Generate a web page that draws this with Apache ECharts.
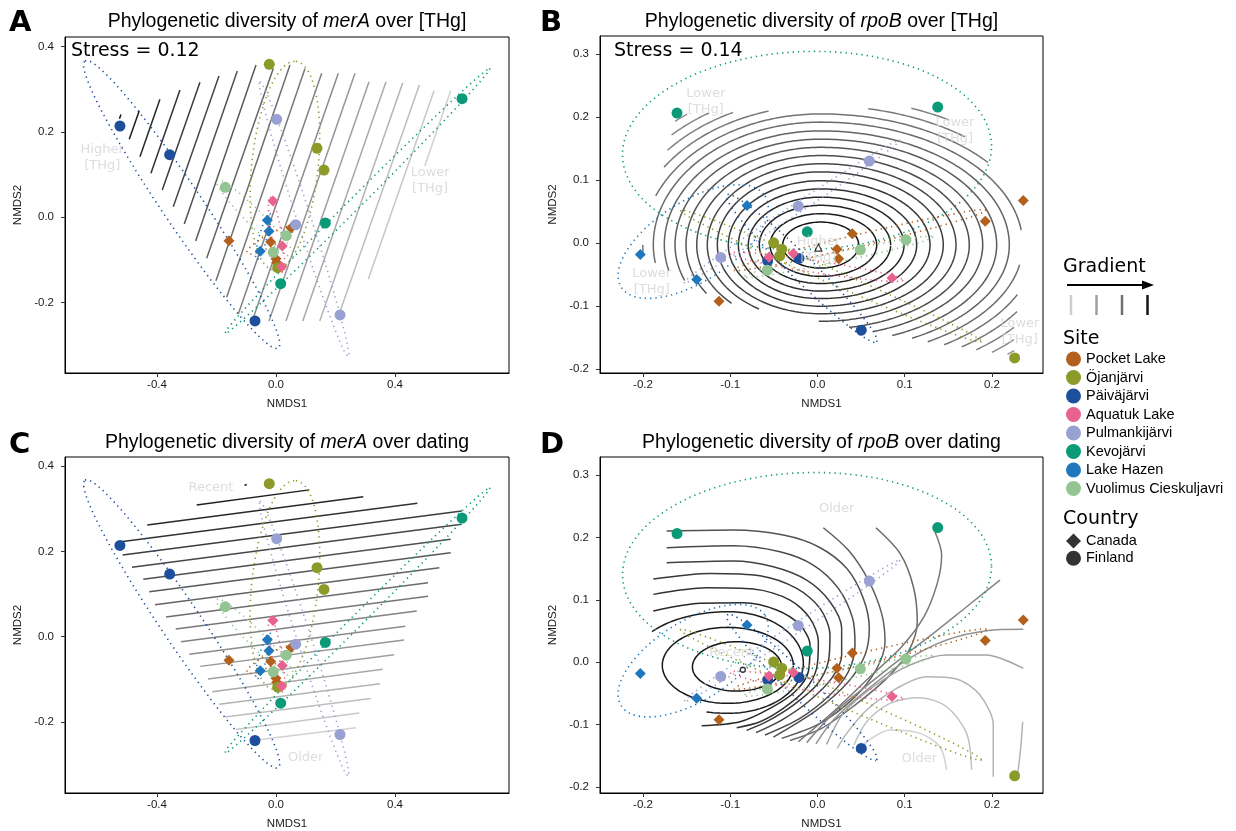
<!DOCTYPE html>
<html>
<head>
<meta charset="utf-8">
<script src="https://cdn.jsdelivr.net/npm/echarts@6/dist/echarts.min.js"></script>
<style>
  html, body { margin: 0; padding: 0; background: #fff; }
  #chart { width: 1236px; height: 831px; }
</style>
</head>
<body>
<div id="chart"></div>
<script>
// sites, colours and country of each site
const sites = ['Pocket Lake', 'Öjanjärvi', 'Päiväjärvi', 'Aquatuk Lake', 'Pulmankijärvi', 'Kevojärvi', 'Lake Hazen', 'Vuolimus Cieskuljavri'];
const siteColors = ['#b3601c', '#8b9a28', '#1d4f9d', '#e8628f', '#99a1d2', '#0b9a77', '#1f78bd', '#92c592'];
const siteCountry = ['Canada', 'Finland', 'Finland', 'Canada', 'Finland', 'Finland', 'Canada', 'Finland'];
const countries = ['Canada', 'Finland'];
const countrySymbols = ['diamond', 'circle'];

// NMDS scores: [site, NMDS1, NMDS2]
const merAScores = [
  ['Pocket Lake', -0.158, -0.0548], ['Pocket Lake', 0.0504, -0.0251], ['Pocket Lake', -0.0178, -0.0579],
  ['Pocket Lake', 0.0, -0.097], ['Pocket Lake', 0.0024, -0.1064],
  ['Öjanjärvi', -0.0225, 0.3586], ['Öjanjärvi', 0.1378, 0.1617], ['Öjanjärvi', 0.1613, 0.1108], ['Öjanjärvi', 0.0057, -0.1181],
  ['Päiväjärvi', -0.5244, 0.214], ['Päiväjärvi', -0.3573, 0.1467], ['Päiväjärvi', -0.0706, -0.243],
  ['Aquatuk Lake', -0.0101, 0.0382], ['Aquatuk Lake', 0.0212, -0.0673], ['Aquatuk Lake', 0.0192, -0.1158],
  ['Pulmankijärvi', 0.0024, 0.2297], ['Pulmankijärvi', 0.0662, -0.0173], ['Pulmankijärvi', 0.2151, -0.229],
  ['Kevojärvi', 0.6252, 0.278], ['Kevojärvi', 0.1657, -0.0134], ['Kevojärvi', 0.0158, -0.1556],
  ['Lake Hazen', -0.0292, -0.007], ['Lake Hazen', -0.0235, -0.0328], ['Lake Hazen', -0.0528, -0.0797],
  ['Vuolimus Cieskuljavri', -0.1704, 0.0703], ['Vuolimus Cieskuljavri', 0.0346, -0.0431], ['Vuolimus Cieskuljavri', -0.0091, -0.082]
];
const rpoBScores = [
  ['Pocket Lake', 0.2359, 0.0678], ['Pocket Lake', 0.1923, 0.0349], ['Pocket Lake', 0.0399, 0.0148],
  ['Pocket Lake', 0.0223, -0.0095], ['Pocket Lake', 0.0243, -0.0249], ['Pocket Lake', -0.1129, -0.0921],
  ['Öjanjärvi', -0.0502, 0.0005], ['Öjanjärvi', -0.041, -0.0095], ['Öjanjärvi', -0.0433, -0.0202], ['Öjanjärvi', 0.226, -0.1821],
  ['Päiväjärvi', -0.0212, -0.0243], ['Päiväjärvi', -0.0571, -0.0281], ['Päiväjärvi', 0.0502, -0.1381],
  ['Aquatuk Lake', -0.0277, -0.0163], ['Aquatuk Lake', -0.0556, -0.0222], ['Aquatuk Lake', 0.0854, -0.0551],
  ['Pulmankijärvi', 0.0594, 0.1302], ['Pulmankijärvi', -0.022, 0.0587], ['Pulmankijärvi', -0.1109, -0.0227],
  ['Kevojärvi', -0.161, 0.2063], ['Kevojärvi', 0.1378, 0.2159], ['Kevojärvi', -0.0117, 0.0179],
  ['Lake Hazen', -0.0808, 0.0598], ['Lake Hazen', -0.2031, -0.0179], ['Lake Hazen', -0.1385, -0.0576],
  ['Vuolimus Cieskuljavri', 0.1014, 0.0052], ['Vuolimus Cieskuljavri', 0.0491, -0.0106], ['Vuolimus Cieskuljavri', -0.0575, -0.0429]
];

// site ellipses: [site, centre x, centre y, major tip x, major tip y, minor tip x, minor tip y]
const merAEllipses = [
  ['Päiväjärvi', -0.317, 0.030, -0.642, 0.367, -0.261, 0.056],
  ['Öjanjärvi', 0.030, 0.121, 0.067, 0.3657, 0.141, 0.113],
  ['Pulmankijärvi', 0.0945, -0.0045, -0.054, 0.318, 0.117, 0.0005],
  ['Kevojärvi', 0.271, 0.0365, 0.719, 0.349, 0.285, 0.0267],
  ['Vuolimus Cieskuljavri', -0.0705, -0.0023, -0.199, 0.0874, -0.0515, 0.011],
  ['Aquatuk Lake', 0.002, -0.0415, -0.020, 0.048, 0.0186, -0.0395],
  ['Lake Hazen', -0.0425, -0.0453, -0.020, 0.0094, -0.0295, -0.0479],
  ['Pocket Lake', -0.017, -0.053, 0.064, -0.022, -0.0073, -0.0654]
];
const rpoBEllipses = [
  ['Kevojärvi', -0.012, 0.147, 0.1995, 0.155, -0.014, 0.304],
  ['Lake Hazen', -0.1425, 0.0025, -0.06, 0.075, -0.1179, -0.0511],
  ['Öjanjärvi', 0.0153, -0.0522, 0.1882, -0.1567, 0.0121, -0.0624],
  ['Pulmankijärvi', -0.0296, 0.0498, 0.0946, 0.1635, -0.0264, 0.0432],
  ['Pocket Lake', 0.0487, 0.0048, 0.1939, 0.0524, 0.0503, -0.0045],
  ['Vuolimus Cieskuljavri', 0.0239, -0.0218, 0.1327, 0.0100, 0.0251, -0.0296],
  ['Aquatuk Lake', -0.001, -0.0376, 0.0983, -0.0587, -0.002, -0.047],
  ['Päiväjärvi', -0.018, -0.040, 0.0679, -0.1567, -0.0084, -0.0264]
];

// fitted surface contours, high to low [THg] / recent to older
const merATHgContours = [
  [-0.526, 0.231, -0.521, 0.241],
  [-0.4931, 0.1828, -0.4595, 0.2498], [-0.4571, 0.142, -0.390, 0.2765], [-0.4202, 0.1031, -0.3227, 0.2983],
  [-0.3822, 0.064, -0.2555, 0.3164], [-0.3452, 0.0248, -0.1916, 0.3311], [-0.3082, -0.0157, -0.130, 0.3429],
  [-0.2699, -0.0555, -0.0672, 0.3569], [-0.2329, -0.0961, -0.009, 0.349], [-0.2017, -0.1486, 0.047, 0.357],
  [-0.1657, -0.1875, 0.0975, 0.349], [-0.1267, -0.2266, 0.1536, 0.3375], [-0.080, -0.243, 0.2094, 0.3375],
  [-0.0235, -0.243, 0.2655, 0.3375], [0.0335, -0.243, 0.3126, 0.3178], [0.090, -0.243, 0.3697, 0.3178],
  [0.147, -0.243, 0.4259, 0.3155], [0.209, -0.233, 0.4817, 0.310], [0.310, -0.145, 0.531, 0.2967],
  [0.50, 0.12, 0.587, 0.2967]
];
const merADatingContours = [
  [-0.106, 0.3545, -0.098, 0.3565],
  [-0.2666, 0.3086, 0.112, 0.344], [-0.4326, 0.2617, 0.2934, 0.3281], [-0.521, 0.2226, 0.475, 0.3126],
  [-0.5153, 0.1915, 0.6242, 0.2946], [-0.484, 0.1626, 0.6242, 0.2634], [-0.446, 0.1345, 0.5872, 0.2283],
  [-0.4259, 0.1055, 0.5872, 0.1969], [-0.4067, 0.075, 0.5489, 0.1617], [-0.3697, 0.0462, 0.5109, 0.1266],
  [-0.3371, 0.018, 0.5109, 0.0947], [-0.3193, -0.0117, 0.473, 0.0602], [-0.2914, -0.0412, 0.4346, 0.0244],
  [-0.2545, -0.0694, 0.4303, -0.0077], [-0.2286, -0.0991, 0.3966, -0.0422], [-0.2141, -0.1289, 0.3587, -0.0764],
  [-0.1906, -0.1584, 0.3496, -0.1101], [-0.1714, -0.1882, 0.3183, -0.1444], [-0.1355, -0.217, 0.280, -0.1788],
  [-0.0649, -0.2421, 0.2689, -0.2133]
];
// rings: [centre x, centre y, reach left, reach right, reach up, reach down]
const rpoBTHgContours = [
  [0.0037, -0.003, 0.0436, 0.0436, 0.0365, 0.0365], [0.0037, -0.003, 0.0581, 0.0642, 0.0497, 0.0497],
  [0.0037, -0.003, 0.0704, 0.0802, 0.063, 0.061], [0.0037, -0.003, 0.083, 0.0955, 0.076, 0.073],
  [0.0037, -0.003, 0.0944, 0.110, 0.089, 0.085], [0.0037, -0.003, 0.1059, 0.1253, 0.102, 0.097],
  [0.0037, -0.003, 0.1185, 0.1405, 0.116, 0.109], [0.0037, -0.003, 0.130, 0.1551, 0.129, 0.121],
  [0.0037, -0.003, 0.1421, 0.1703, 0.142, 0.133], [0.0037, -0.003, 0.1544, 0.1857, 0.155, 0.145],
  [0.0037, -0.003, 0.167, 0.2017, 0.168, 0.157], [0.0037, -0.003, 0.1793, 0.2162, 0.181, 0.169],
  [0.0037, -0.003, 0.1919, 0.2315, 0.195, 0.181], [0.0037, -0.003, 0.204, 0.2468, 0.208, 0.193],
  [0.0037, -0.003, 0.2166, 0.2625, 0.221, 0.205], [0.0037, -0.003, 0.2292, 0.2774, 0.234, 0.217],
  [0.0037, -0.003, 0.2418, 0.2934, 0.247, 0.229], [0.0037, -0.003, 0.2544, 0.3083, 0.26, 0.241]
];
const rpoBDatingRings = [
  [-0.0926, -0.0077, 0.0508, 0.0516, 0.0406, 0.0385],
  [-0.1028, -0.005, 0.0751, 0.0751, 0.0609, 0.0609],
  [-0.1022, -0.0018, 0.111, 0.086, 0.0828, 0.080]
];
const rpoBDatingRingLevels = [0, 0.02, 0.05];
const rpoBDatingCurves = [
  [[-0.1882, 0.082], [-0.1347, 0.0944], [-0.085, 0.0954], [-0.0468, 0.0837], [-0.0201, 0.0596], [-0.0086, 0.0276], [-0.0105, -0.0152], [-0.0258, -0.0472], [-0.0544, -0.0739], [-0.0888, -0.0953], [-0.1328, -0.1017]],
  [[-0.1882, 0.1088], [-0.127, 0.1194], [-0.0735, 0.1173], [-0.0315, 0.0997], [-0.0086, 0.0703], [0.001, 0.0329], [-0.001, -0.0098], [-0.0143, -0.0446], [-0.0392, -0.0739], [-0.0659, -0.0953], [-0.0926, -0.1049]],
  [[-0.1882, 0.1333], [-0.1232, 0.1424], [-0.0659, 0.1387], [-0.0239, 0.1184], [0.0029, 0.0863], [0.0143, 0.0436], [0.0124, 0.0009], [-0.001, -0.0365], [-0.0277, -0.0686], [-0.0583, -0.0953], [-0.0812, -0.1092]],
  [[-0.1729, 0.1595], [-0.0965, 0.1622], [-0.0506, 0.1531], [-0.0124, 0.1317], [0.0143, 0.097], [0.0277, 0.0543], [0.0277, 0.0115], [0.0162, -0.0259], [-0.0105, -0.0633], [-0.0411, -0.0927], [-0.0705, -0.1128]],
  [[-0.1729, 0.1835], [-0.0965, 0.1867], [-0.043, 0.1771], [-0.0048, 0.1558], [0.0239, 0.1184], [0.0403, 0.0703], [0.043, 0.0276], [0.0354, -0.0152], [0.0143, -0.0526], [-0.0201, -0.09], [-0.0602, -0.1167]],
  [[-0.1729, 0.2103], [-0.0965, 0.2119], [-0.0392, 0.2038], [0.001, 0.1851], [0.0334, 0.1505], [0.0525, 0.1024], [0.0594, 0.0543], [0.0545, 0.0115], [0.0354, -0.0312], [-0.001, -0.0766], [-0.0506, -0.1199]],
  [[0.0067, 0.2156], [0.0353, 0.1798], [0.0583, 0.1317], [0.0735, 0.0783], [0.0774, 0.0329], [0.067, -0.0125], [0.0411, -0.0579], [0.0029, -0.098], [-0.0411, -0.122]],
  [[0.067, 0.2156], [0.0946, 0.1745], [0.1099, 0.121], [0.1144, 0.065], [0.1041, 0.0169], [0.0793, -0.0259], [0.043, -0.0686], [0.0048, -0.106], [-0.0315, -0.1255]],
  [[0.1347, 0.2092], [0.1423, 0.1718], [0.1373, 0.1264], [0.1221, 0.073], [0.0965, 0.0249], [0.0602, -0.0232], [0.0181, -0.0793], [-0.022, -0.1274]],
  [[0.2092, 0.1317], [0.171, 0.089], [0.1328, 0.0463], [0.0946, 0.0051], [0.0564, -0.0376], [0.0181, -0.082], [-0.0124, -0.1289]],
  [[0.2359, 0.0527], [0.1939, 0.0505], [0.148, 0.0356], [0.1022, 0.0035], [0.0564, -0.0446], [0.0181, -0.0927], [-0.0017, -0.1306]],
  [[0.2359, -0.0098], [0.1939, 0.0115], [0.148, 0.0115], [0.106, -0.0045], [0.064, -0.0393], [0.0296, -0.082], [0.0105, -0.1317]],
  [[0.2015, -0.1834], [0.2015, -0.1006], [0.1862, -0.0526], [0.1595, -0.0269], [0.1251, -0.0232], [0.0907, -0.0419], [0.0564, -0.0766], [0.0334, -0.114], [0.0227, -0.138]],
  [[0.1767, -0.1727], [0.171, -0.114], [0.148, -0.0713], [0.1175, -0.0569], [0.0831, -0.066], [0.0564, -0.0953], [0.0418, -0.1327]],
  [[0.148, -0.1727], [0.1404, -0.1354], [0.1175, -0.114], [0.0831, -0.1087], [0.0564, -0.1274], [0.0495, -0.1407]],
  [[0.2291, -0.1834], [0.2329, -0.138], [0.2352, -0.0953]]
];
const rpoBDatingCurveLevels = [0.1, 0.14, 0.18, 0.22, 0.26, 0.3, 0.36, 0.42, 0.48, 0.55, 0.62, 0.7, 0.78, 0.85, 0.92, 0.78];
const rpoBTHgPeak = [0.001, -0.007];
const rpoBDatingPeak = [-0.0856, -0.012];

// surface labels: [text, NMDS1, NMDS2]
const merATHgNotes = [['Higher\n[THg]', -0.584, 0.141], ['Lower\n[THg]', 0.518, 0.085]];
const rpoBTHgNotes = [['Lower\n[THg]', -0.128, 0.224], ['Lower\n[THg]', 0.1576, 0.179], ['Lower\n[THg]', -0.190, -0.061], ['Higher\n[THg]', 0.001, -0.011], ['Lower\n[THg]', 0.232, -0.140]];
const merADatingNotes = [['Recent', -0.2185, 0.349], ['Older', 0.100, -0.283]];
const rpoBDatingNotes = [['Older', 0.022, 0.2466], ['Recent', -0.0983, 0.0159], ['Older', 0.1167, -0.154]];

const merATicksX = [-0.4, 0, 0.4];
const merATicksY = [-0.2, 0, 0.2, 0.4];
const rpoBTicksX = [-0.2, -0.1, 0, 0.1, 0.2];
const rpoBTicksY = [-0.2, -0.1, 0, 0.1, 0.2, 0.3];
const gradientShades = [0.9, 0.68, 0.45, 0];

const ARIAL = '"Liberation Sans", Arial, sans-serif';
const DEJAVU = '"DejaVu Sans", sans-serif';

function grey(t) {
  const v = Math.round(20 + t * (225 - 20));
  return 'rgb(' + v + ',' + v + ',' + v + ')';
}

function ellipse(cx, cy, mx, my, nx, ny) {
  const pts = [];
  for (let i = 0; i <= 120; i++) {
    const t = i / 120 * 2 * Math.PI, c = Math.cos(t), s = Math.sin(t);
    pts.push([cx + (mx - cx) * c + (nx - cx) * s, cy + (my - cy) * c + (ny - cy) * s]);
  }
  return pts;
}

function ring(cx, cy, rl, rr, rt, rb) {
  const pts = [];
  for (let i = 0; i < 360; i++) {
    const t = i / 360 * 2 * Math.PI, c = Math.cos(t), s = Math.sin(t);
    pts.push([cx + c * (c >= 0 ? rr : rl), cy + s * (s >= 0 ? rt : rb)]);
  }
  return pts;
}

function hull(points) {
  const p = points.slice().sort((a, b) => a[0] - b[0] || a[1] - b[1]);
  const cross = (o, a, b) => (a[0] - o[0]) * (b[1] - o[1]) - (a[1] - o[1]) * (b[0] - o[0]);
  const lower = [], upper = [];
  for (const q of p) {
    while (lower.length >= 2 && cross(lower[lower.length - 2], lower[lower.length - 1], q) <= 0) lower.pop();
    lower.push(q);
  }
  for (let i = p.length - 1; i >= 0; i--) {
    const q = p[i];
    while (upper.length >= 2 && cross(upper[upper.length - 2], upper[upper.length - 1], q) <= 0) upper.pop();
    upper.push(q);
  }
  upper.pop(); lower.pop();
  return lower.concat(upper);
}

function inside(h, q) {
  for (let i = 0; i < h.length; i++) {
    const a = h[i], b = h[(i + 1) % h.length];
    if ((b[0] - a[0]) * (q[1] - a[1]) - (b[1] - a[1]) * (q[0] - a[0]) < 0) return false;
  }
  return true;
}

function clipRing(pts, h) {
  const f = pts.map(q => inside(h, q));
  const start = f.indexOf(false);
  if (start < 0) return [pts.concat([pts[0]])];
  const runs = [];
  let cur = [];
  for (let k = 0; k < pts.length; k++) {
    const i = (start + k) % pts.length;
    if (f[i]) cur.push(pts[i]);
    else { if (cur.length > 1) runs.push(cur); cur = []; }
  }
  if (cur.length > 1) runs.push(cur);
  return runs;
}

const rpoBHull = hull(rpoBScores.map(r => [r[1], r[2]]));

const panels = [
  {letter: 'A', gene: 'merA', by: '[THg]', stress: 'Stress = 0.12', scores: merAScores, ellipses: merAEllipses, notes: merATHgNotes,
    grid: {left: 65, top: 37, width: 444, height: 336}, xr: [-0.709, 0.783], yr: [-0.365, 0.4226], xt: merATicksX, yt: merATicksY},
  {letter: 'B', gene: 'rpoB', by: '[THg]', stress: 'Stress = 0.14', scores: rpoBScores, ellipses: rpoBEllipses, notes: rpoBTHgNotes,
    grid: {left: 600, top: 36, width: 443, height: 337}, xr: [-0.2493, 0.2585], yr: [-0.206, 0.3286], xt: rpoBTicksX, yt: rpoBTicksY},
  {letter: 'C', gene: 'merA', by: 'dating', stress: null, scores: merAScores, ellipses: merAEllipses, notes: merADatingNotes,
    grid: {left: 65, top: 457, width: 444, height: 336}, xr: [-0.709, 0.783], yr: [-0.366, 0.421], xt: merATicksX, yt: merATicksY},
  {letter: 'D', gene: 'rpoB', by: 'dating', stress: null, scores: rpoBScores, ellipses: rpoBEllipses, notes: rpoBDatingNotes,
    grid: {left: 600, top: 457, width: 443, height: 336}, xr: [-0.2493, 0.2585], yr: [-0.2096, 0.329], xt: rpoBTicksX, yt: rpoBTicksY}
];

const series = [];
function addLine(gi, pts, color, extra) {
  series.push(Object.assign({
    type: 'line', xAxisIndex: gi, yAxisIndex: gi, data: pts, symbol: 'none',
    silent: true, animation: false, z: 2, lineStyle: {color: color, width: 1.5}
  }, extra || {}));
}

// contours
merATHgContours.forEach((c, i, arr) => addLine(0, [[c[0], c[1]], [c[2], c[3]]], grey(i / (arr.length - 1) * 0.92)));
rpoBTHgContours.forEach((r, i, arr) => {
  clipRing(ring(...r), rpoBHull).forEach(seg => addLine(1, seg, grey(i / (arr.length - 1) * 0.6)));
});
merADatingContours.forEach((c, i, arr) => addLine(2, [[c[0], c[1]], [c[2], c[3]]], grey(i / (arr.length - 1) * 0.92)));
rpoBDatingRings.forEach((r, i) => {
  clipRing(ring(...r), rpoBHull).forEach(seg => addLine(3, seg, grey(rpoBDatingRingLevels[i])));
});
rpoBDatingCurves.forEach((c, i) => addLine(3, c, grey(rpoBDatingCurveLevels[i]), {smooth: 0.3}));

panels.forEach((p, gi) => {
  // site ellipses
  p.ellipses.forEach(e => {
    const col = siteColors[sites.indexOf(e[0])];
    addLine(gi, ellipse(...e.slice(1)), col, {z: 3, lineStyle: {color: col, width: 1.6, type: [1.3, 4]}});
  });
  // samples
  sites.forEach((s, si) => {
    series.push({
      type: 'scatter', name: s, xAxisIndex: gi, yAxisIndex: gi,
      data: p.scores.filter(r => r[0] === s).map(r => [r[1], r[2]]),
      symbol: countrySymbols[countries.indexOf(siteCountry[si])], symbolSize: 11,
      itemStyle: {color: siteColors[si], opacity: 1}, z: 4, silent: true, animation: false
    });
  });
  // surface labels
  series.push({
    type: 'scatter', xAxisIndex: gi, yAxisIndex: gi, symbolSize: 0, z: 5, silent: true, animation: false,
    data: p.notes.map(n => ({value: [n[1], n[2]], name: n[0]})),
    label: {show: true, position: 'inside', formatter: '{b}', color: '#d4d4d4', fontFamily: DEJAVU, fontSize: 13, lineHeight: 16, align: 'center'}
  });
});

series.push({type: 'scatter', xAxisIndex: 1, yAxisIndex: 1, data: [rpoBTHgPeak], symbol: 'triangle', symbolSize: 7,
  itemStyle: {color: '#fff', borderColor: '#000', borderWidth: 1.2}, z: 4, silent: true, animation: false});
series.push({type: 'scatter', xAxisIndex: 3, yAxisIndex: 3, data: [rpoBDatingPeak], symbol: 'circle', symbolSize: 5,
  itemStyle: {color: '#fff', borderColor: '#000', borderWidth: 1.3}, z: 4, silent: true, animation: false});

countries.forEach((c, i) => series.push({type: 'scatter', name: c, xAxisIndex: 0, yAxisIndex: 0, data: [],
  symbol: countrySymbols[i], itemStyle: {color: '#000'}}));

const fmt = v => v.toFixed(1);
function axis(p, gi, dim) {
  const isX = dim === 'x';
  const ticks = isX ? p.xt : p.yt;
  const range = isX ? p.xr : p.yr;
  return {
    type: 'value', gridIndex: gi, min: range[0], max: range[1],
    name: isX ? 'NMDS1' : 'NMDS2', nameLocation: 'middle', nameGap: isX ? 25 : 41,
    nameTextStyle: {fontFamily: ARIAL, fontSize: 11.5, color: '#1a1a1a'},
    axisLine: {show: true, onZero: false, lineStyle: {color: '#000', width: 1}},
    axisTick: {show: true, customValues: ticks, length: 4, lineStyle: {color: '#333'}},
    axisLabel: {customValues: ticks, formatter: fmt, fontFamily: ARIAL, fontSize: 11.5, color: '#1a1a1a', margin: isX ? 6 : 11},
    splitLine: {show: false}
  };
}

const graphic = [];
const titleCentres = [[287, 22], [821.5, 22], [287, 443], [821.5, 443]];
const letterPos = [[9, 23], [540, 23], [9, 445], [540, 445]];
const stressPos = [[71, 51], [614, 51]];
panels.forEach((p, i) => {
  graphic.push({
    type: 'text', x: titleCentres[i][0], y: titleCentres[i][1], silent: true,
    style: {
      text: '{n|Phylogenetic diversity of }{i|' + p.gene + '}{n| over ' + p.by + '}',
      align: 'center', verticalAlign: 'middle', fill: '#000',
      rich: {
        n: {fontFamily: ARIAL, fontSize: 19.5, fill: '#000'},
        i: {fontFamily: ARIAL, fontSize: 19.5, fontStyle: 'italic', fill: '#000'}
      }
    }
  });
  graphic.push({type: 'text', x: letterPos[i][0], y: letterPos[i][1], silent: true,
    style: {text: p.letter, font: 'bold 29px "DejaVu Sans"', fill: '#000', verticalAlign: 'middle'}});
  if (p.stress) {
    graphic.push({type: 'text', x: stressPos[i][0], y: stressPos[i][1], silent: true,
      style: {text: p.stress, font: '19px "DejaVu Sans"', fill: '#000', verticalAlign: 'middle'}});
  }
});
// legend headings and gradient key
[['Gradient', 267], ['Site', 339], ['Country', 519]].forEach(h => graphic.push({
  type: 'text', x: 1063, y: h[1], silent: true,
  style: {text: h[0], font: '19px "DejaVu Sans"', fill: '#000', verticalAlign: 'middle'}
}));
graphic.push({type: 'line', silent: true, shape: {x1: 1067, y1: 285, x2: 1146, y2: 285}, style: {stroke: '#000', lineWidth: 2}});
graphic.push({type: 'polygon', silent: true, shape: {points: [[1154, 285], [1142, 280.5], [1142, 289.5]]}, style: {fill: '#000'}});
gradientShades.forEach((s, i) => graphic.push({
  type: 'line', silent: true, shape: {x1: 1071 + i * 25.5, y1: 295, x2: 1071 + i * 25.5, y2: 315},
  style: {stroke: grey(s), lineWidth: 2.5}
}));

const option = {
  animation: false,
  backgroundColor: '#fff',
  grid: panels.map(p => Object.assign({show: true, borderColor: '#000', borderWidth: 1, backgroundColor: 'transparent'}, p.grid)),
  xAxis: panels.map((p, i) => axis(p, i, 'x')),
  yAxis: panels.map((p, i) => axis(p, i, 'y')),
  legend: [
    {data: sites.map(s => ({name: s, icon: 'circle'})), orient: 'vertical', left: 1066, top: 351.5, padding: 0,
      itemWidth: 15, itemHeight: 15, itemGap: 3.5, selectedMode: false,
      textStyle: {fontFamily: ARIAL, fontSize: 14.5, color: '#000'}},
    {data: countries.map((c, i) => ({name: c, icon: countrySymbols[i]})), orient: 'vertical', left: 1066, top: 533.5, padding: 0,
      itemWidth: 15, itemHeight: 15, itemGap: 2.3, selectedMode: false,
      textStyle: {fontFamily: ARIAL, fontSize: 14.5, color: '#000'}}
  ],
  graphic: graphic,
  series: series
};

const chart = echarts.init(document.getElementById('chart'));
chart.setOption(option);
</script>
</body>
</html>
